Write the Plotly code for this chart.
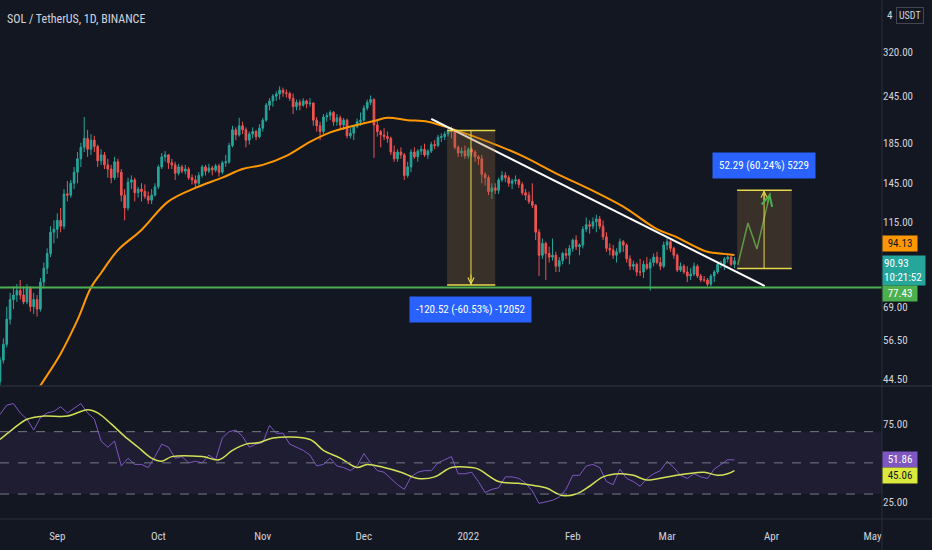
import numpy as np
import pandas as pd
import plotly.graph_objects as go

# SOL/USDT daily candles, 2021-08-15 .. 2022-03-21 (open = previous close)
first_open = 44
closes = [
    # Aug
    50, 55, 64, 72, 74, 76, 74, 71, 77, 69, 72, 68, 80, 87, 95, 108, 110,
    # Sep
    116, 112, 136, 135, 145, 155, 168, 180, 190, 178, 188, 181, 166, 172, 162,
    158, 150, 165, 155, 135, 125, 146, 148, 137, 140, 138, 134, 131, 135, 142,
    # Oct
    160, 170, 172, 164, 162, 154, 160, 156, 158, 150, 148, 145, 152, 160, 156, 159,
    157, 161, 155, 164, 165, 182, 200, 194, 205, 200, 188, 195, 198, 192, 202,
    # Nov
    212, 232, 238, 245, 248, 254, 250, 249, 242, 230, 236, 232, 238, 234, 235,
    212, 205, 198, 216, 218, 222, 210, 215, 206, 212, 193, 196, 204, 210, 212,
    # Dec
    228, 236, 240, 206, 198, 194, 192, 190, 175, 168, 175, 172, 152, 160, 175, 170,
    176, 178, 172, 176, 183, 182, 191, 192, 195, 199, 198, 180, 174, 176, 171,
    # Jan
    178, 175, 170, 168, 153, 150, 138, 141, 139, 148, 152, 150, 145, 147, 148, 144,
    137, 135, 130, 127, 108, 94, 101, 95, 93, 94, 88, 91, 95, 94, 98,
    # Feb
    103, 99, 100, 110, 113, 112, 115, 117, 112, 105, 98, 97, 94, 96, 102, 100,
    92, 88, 89, 85, 85, 89, 87, 90, 93, 90, 88, 100,
    # Mar
    102, 98, 94, 86, 88, 85, 83, 84, 88, 83, 81, 81, 79, 83, 85, 89, 89, 92, 93, 89, 90.93,
]
highs = [
    51, 57, 69, 75, 78, 79, 81, 78, 79, 78, 75, 74, 82, 90, 98, 112, 116,
    121, 125, 140, 147, 148, 160, 175, 185, 216, 200, 195, 193, 183, 178, 175,
    168, 162, 170, 168, 158, 140, 150, 152, 150, 142, 145, 144, 138, 140, 145,
    162, 174, 176, 173, 168, 165, 163, 162, 162, 160, 153, 152, 155, 162, 162, 163,
    161, 163, 163, 166, 172, 185, 205, 203, 215, 210, 203, 198, 203, 200, 207,
    215, 235, 242, 248, 252, 260, 258, 255, 252, 249, 240, 240, 242, 240, 242,
    236, 216, 210, 220, 222, 225, 224, 220, 218, 215, 214, 202, 206, 214, 222,
    232, 240, 246, 242, 212, 200, 202, 198, 192, 182, 178, 180, 174, 165, 178, 180,
    178, 182, 184, 178, 186, 188, 194, 196, 198, 202, 204, 199, 182, 180, 182,
    180, 180, 177, 172, 172, 155, 152, 145, 145, 150, 156, 155, 152, 149, 152, 149,
    146, 140, 138, 145, 128, 110, 104, 102, 99, 104, 96, 93, 96, 98, 100,
    104, 106, 101, 112, 118, 116, 118, 120, 119, 116, 108, 101, 100, 98, 104, 103,
    101, 94, 91, 90, 92, 91, 93, 92, 95, 96, 93, 102,
    104, 103, 99, 95, 90, 89, 88, 87, 90, 89, 84, 83, 82, 84, 86, 90, 91, 93, 94, 94, 93,
]
lows = [
    43, 49, 54, 62, 68, 71, 72, 70, 70, 67, 66, 65, 67, 77, 84, 93, 101,
    104, 108, 110, 130, 133, 140, 145, 160, 175, 170, 172, 175, 160, 162, 158,
    150, 145, 148, 150, 130, 116, 123, 140, 130, 133, 130, 132, 128, 128, 134,
    140, 158, 165, 158, 158, 148, 152, 154, 153, 148, 144, 140, 143, 150, 152, 154,
    152, 155, 151, 153, 160, 163, 180, 188, 192, 195, 180, 183, 190, 188, 190,
    198, 210, 225, 230, 238, 240, 244, 243, 238, 220, 225, 225, 230, 228, 230,
    205, 198, 188, 195, 210, 212, 205, 205, 202, 200, 190, 190, 188, 202, 205,
    210, 225, 232, 169, 192, 180, 188, 185, 172, 165, 165, 168, 148, 150, 155, 168,
    165, 172, 170, 168, 174, 178, 180, 186, 188, 192, 190, 178, 170, 170, 168,
    168, 170, 165, 162, 145, 143, 135, 132, 136, 136, 146, 146, 142, 140, 144, 141,
    135, 131, 128, 125, 103, 83, 92, 81, 90, 91, 85, 85, 89, 92, 89,
    96, 97, 94, 98, 108, 107, 110, 108, 110, 103, 96, 94, 92, 90, 95, 96,
    90, 86, 86, 83, 83, 82, 86, 76, 88, 89, 86, 87,
    97, 96, 92, 85, 85, 84, 80, 81, 83, 82, 80, 80, 78, 78, 80, 84, 87, 86, 90, 88, 87,
]
dates = pd.date_range("2021-08-15", "2022-03-21", freq="D")
opens = [first_open] + closes[:-1]

# moving average (orange)
ma_dates = ["2021-08-24", "2021-08-27", "2021-09-02", "2021-09-07", "2021-09-11",
            "2021-09-14", "2021-09-19", "2021-09-26", "2021-10-04", "2021-10-12",
            "2021-10-20", "2021-10-26", "2021-11-01", "2021-11-08", "2021-11-15",
            "2021-11-21", "2021-11-28", "2021-12-04", "2021-12-08", "2021-12-14",
            "2021-12-20", "2021-12-28", "2022-01-07", "2022-01-17", "2022-01-27",
            "2022-02-06", "2022-02-16", "2022-02-26", "2022-03-03", "2022-03-08",
            "2022-03-13", "2022-03-18", "2022-03-21"]
ma_values = [39, 42.9, 52, 63.7, 77.4, 84.5, 97, 109.5, 130, 141,
             150, 158, 162, 171, 186, 197, 205, 211, 215, 212,
             210, 200, 186, 171, 154, 140, 126, 110, 105.6, 100.4,
             96, 94.8, 94.13]

# RSI (every second day) and its moving average
rsi_values = [81, 87, 88, 82, 78, 71, 79, 82, 83, 86,
              82, 85, 88, 82, 78, 64, 60, 64, 48, 53,
              49, 49, 47, 54, 62, 60, 53, 54, 50, 51,
              50, 55, 52, 66, 70, 71, 67, 60, 62, 63,
              74, 69, 69, 62, 60, 58, 55, 48, 49, 53,
              48, 47, 45, 48, 56, 50, 45, 44, 40, 36,
              33, 41, 44, 45, 45, 50, 52, 54,
              43, 43, 44, 38, 31, 33, 34, 41, 41, 40,
              37, 32, 24, 25, 26, 28, 33, 42, 42, 48,
              49, 47, 38, 36, 46, 40, 38, 35, 40, 43,
              45, 51, 47, 42, 40, 43, 41, 40, 46, 49, 52, 51.86]
rsi_dates = dates[::2]
rsi_ma_dates = ["2021-08-15", "2021-08-19", "2021-08-23", "2021-08-28", "2021-09-04",
                "2021-09-10", "2021-09-13", "2021-09-17", "2021-09-21", "2021-09-25",
                "2021-09-29", "2021-10-02", "2021-10-05", "2021-10-14", "2021-10-19",
                "2021-10-23", "2021-10-27", "2021-10-31", "2021-11-04", "2021-11-15",
                "2021-11-19", "2021-11-24", "2021-11-29", "2021-12-02", "2021-12-07",
                "2021-12-12", "2021-12-17", "2021-12-22", "2021-12-27", "2022-01-02",
                "2022-01-04", "2022-01-10", "2022-01-15", "2022-01-19", "2022-01-24",
                "2022-01-29", "2022-02-02", "2022-02-06", "2022-02-10", "2022-02-15",
                "2022-02-19", "2022-02-23", "2022-03-01", "2022-03-07", "2022-03-12",
                "2022-03-16", "2022-03-19", "2022-03-21"]
rsi_ma_values = [65, 72, 78, 80, 80, 84, 82, 75, 67, 60,
                 53, 51, 54, 54, 52, 58, 62, 63, 66, 65,
                 58, 53, 47, 49, 47, 44, 40, 41, 47, 47,
                 46, 38, 37, 36, 34, 29, 30, 35, 41, 43,
                 42, 39, 41, 43, 44, 42, 43, 45.06]

# drawings
support_level = 77.43
trend_dates = ["2021-12-21", "2022-03-30"]
trend_prices = [213.6, 78.1]
drop_box = ("2021-12-25 17:00", "2022-01-09", 199.11, 78.59)
drop_mid = "2022-01-01 19:00"
rise_box = ("2022-03-21 19:00", "2022-04-07", 86.80, 139.09)
rise_mid = "2022-03-29 19:00"
proj_dates = ["2022-03-22", "2022-03-25", "2022-03-27 16:00", "2022-03-31 14:00"]
proj_prices = [88.7, 114.2, 97.6, 136.8]

month_ticks = ["2021-09-01", "2021-10-01", "2021-11-01", "2021-12-01", "2022-01-01",
               "2022-02-01", "2022-03-01", "2022-04-01", "2022-05-01"]
month_text = ["Sep", "Oct", "Nov", "Dec", "2022", "Feb", "Mar", "Apr", "May"]
price_ticks = [44.5, 56.5, 69, 89, 115, 145, 185, 245, 320]

BG = "#131722"
TXT = "#d1d4dc"
FONT = "Liberation Sans Narrow, Roboto Condensed, Roboto, sans-serif"
UP, DOWN = "#26a69a", "#ef5350"
YELLOW = "#e8d84a"
lg = np.log10

fig = go.Figure()

fig.add_trace(go.Candlestick(
    x=dates, open=opens, high=highs, low=lows, close=closes,
    increasing=dict(line=dict(color=UP, width=1), fillcolor=UP),
    decreasing=dict(line=dict(color=DOWN, width=1), fillcolor=DOWN),
    whiskerwidth=0, hoverinfo="skip", xaxis="x", yaxis="y"))

fig.add_trace(go.Scatter(x=ma_dates, y=ma_values, mode="lines", line_shape="spline",
                         line=dict(color="#ff9800", width=2), xaxis="x", yaxis="y"))
fig.add_trace(go.Scatter(x=trend_dates, y=trend_prices, mode="lines",
                         line=dict(color="#ffffff", width=2), xaxis="x", yaxis="y"))
fig.add_trace(go.Scatter(x=proj_dates, y=proj_prices, mode="lines",
                         line=dict(color="#4caf50", width=1.5), xaxis="x", yaxis="y"))

fig.add_trace(go.Scatter(x=rsi_dates, y=rsi_values, mode="lines",
                         line=dict(color="#7e57c2", width=1), xaxis="x", yaxis="y2"))
fig.add_trace(go.Scatter(x=rsi_ma_dates, y=rsi_ma_values, mode="lines", line_shape="spline",
                         line=dict(color="#d4e157", width=1.5), xaxis="x", yaxis="y2"))

shapes = []
# measure boxes (shapes take raw prices on the log axis)
for (x0, x1, p0, p1) in (drop_box, rise_box):
    shapes.append(dict(type="rect", xref="x", yref="y", x0=x0, x1=x1, y0=p0, y1=p1,
                       fillcolor="rgba(140,105,55,0.32)", line=dict(width=0), layer="above"))
    for p in (p0, p1):
        shapes.append(dict(type="line", xref="x", yref="y", x0=x0, x1=x1, y0=p, y1=p,
                           line=dict(color=YELLOW, width=1.5)))
shapes.append(dict(type="line", xref="x", yref="y", x0=drop_mid, x1=drop_mid,
                   y0=drop_box[2], y1=drop_box[3], line=dict(color=YELLOW, width=1)))
shapes.append(dict(type="line", xref="x", yref="y", x0=rise_mid, x1=rise_mid,
                   y0=rise_box[2], y1=rise_box[3], line=dict(color=YELLOW, width=1)))
# support line
shapes.append(dict(type="line", xref="paper", yref="y", x0=0, x1=1,
                   y0=support_level, y1=support_level, line=dict(color="#4caf50", width=2)))
# RSI band and levels
shapes.append(dict(type="rect", xref="paper", yref="y2", x0=0, x1=1, y0=30, y1=70,
                   fillcolor="rgba(126,87,194,0.10)", line=dict(width=0), layer="below"))
for lvl in (30, 50, 70):
    shapes.append(dict(type="line", xref="paper", yref="y2", x0=0, x1=1, y0=lvl, y1=lvl,
                       line=dict(color="#787b86", width=1, dash="dash")))
# pane separators
sep = "#2a2e39"
main_bottom = 133 / 519
shapes.append(dict(type="line", xref="paper", yref="paper", x0=1, x1=1, y0=-0.06, y1=1,
                   line=dict(color=sep, width=1)))
shapes.append(dict(type="line", xref="paper", yref="paper", x0=0, x1=1.06,
                   y0=main_bottom, y1=main_bottom, line=dict(color=sep, width=1.5)))
shapes.append(dict(type="line", xref="paper", yref="paper", x0=0, x1=1.06,
                   y0=0, y1=0, line=dict(color=sep, width=1)))

annotations = [
    dict(text="SOL / TetherUS, 1D, BINANCE", xref="paper", yref="paper", x=0, y=1,
         xanchor="left", yanchor="top", xshift=5, yshift=-10, showarrow=False,
         font=dict(color=TXT, size=12, family=FONT)),
    dict(text="4", xref="paper", yref="paper", x=1, y=1, xanchor="left", yanchor="top",
         xshift=3, yshift=-7, showarrow=False, font=dict(color=TXT, size=11, family=FONT)),
    dict(text="USDT", xref="paper", yref="paper", x=1, y=1, xanchor="left", yanchor="top",
         xshift=14, yshift=-7, showarrow=False, bgcolor=BG, bordercolor="#434651",
         borderwidth=1, borderpad=2, font=dict(color=TXT, size=10, family=FONT)),
    # arrow heads of the measure tools (annotations use log10 on a log axis)
    dict(x=drop_mid, y=lg(drop_box[3]), xref="x", yref="y", text="", showarrow=True,
         ax=0, ay=-12, arrowhead=5, arrowsize=1.2, arrowwidth=1, arrowcolor=YELLOW),
    dict(x=rise_mid, y=lg(rise_box[3]), xref="x", yref="y", text="", showarrow=True,
         ax=0, ay=12, arrowhead=5, arrowsize=1.2, arrowwidth=1, arrowcolor=YELLOW),
    dict(x=proj_dates[-1], y=lg(proj_prices[-1]), xref="x", yref="y", text="",
         showarrow=True, ax=-3, ay=12, arrowhead=5, arrowsize=1.4, arrowwidth=1.5,
         arrowcolor="#4caf50"),
    # measure labels
    dict(x=drop_mid, y=lg(drop_box[3]), xref="x", yref="y", yshift=-24,
         text="-120.52 (-60.53%) -12052", showarrow=False, bgcolor="#2962ff",
         borderpad=6, font=dict(color="#ffffff", size=11, family=FONT)),
    dict(x=rise_mid, y=lg(rise_box[3]), xref="x", yref="y", yshift=25,
         text="52.29 (60.24%) 5229", showarrow=False, bgcolor="#2962ff",
         borderpad=6, font=dict(color="#ffffff", size=11, family=FONT)),
    # price scale labels
    dict(text=f"{ma_values[-1]:.2f}", xref="paper", yref="y", x=1, y=lg(ma_values[-1]),
         yshift=12, xanchor="left", showarrow=False, bgcolor="#ff9800", width=32,
         font=dict(color="#131722", size=11, family=FONT)),
    dict(text=f"{closes[-1]:.2f}<br>10:21:52", xref="paper", yref="y", x=1,
         y=lg(closes[-1]), yshift=-10, xanchor="left", showarrow=False, bgcolor=UP,
         width=40, align="left", font=dict(color="#ffffff", size=11, family=FONT)),
    dict(text=f"{support_level:.2f}", xref="paper", yref="y", x=1, y=lg(support_level),
         yshift=-6, xanchor="left", showarrow=False, bgcolor="#4caf50", width=32,
         font=dict(color="#ffffff", size=11, family=FONT)),
    dict(text=f"{rsi_values[-1]:.2f}", xref="paper", yref="y2", x=1, y=rsi_values[-1],
         xanchor="left", showarrow=False, bgcolor="#7e57c2", width=32,
         font=dict(color="#ffffff", size=11, family=FONT)),
    dict(text=f"{rsi_ma_values[-1]:.2f}", xref="paper", yref="y2", x=1,
         y=rsi_ma_values[-1], yshift=-5, xanchor="left", showarrow=False,
         bgcolor="#dbe83c", width=32, font=dict(color="#131722", size=11, family=FONT)),
]

fig.update_layout(
    width=932, height=550,
    margin=dict(l=0, r=50, t=0, b=31),
    paper_bgcolor=BG, plot_bgcolor=BG,
    showlegend=False,
    font=dict(family=FONT, color=TXT, size=11),
    xaxis=dict(type="date", range=["2021-08-15", "2022-05-03 19:00"], anchor="y2",
               tickvals=month_ticks, ticktext=month_text, showgrid=False,
               zeroline=False, showline=False, ticks="outside", ticklen=7, tickcolor=BG,
               rangeslider=dict(visible=False), tickfont=dict(color=TXT, size=11)),
    yaxis=dict(type="log", domain=[main_bottom, 1], range=[lg(42.8), lg(437)],
               side="right", anchor="x", tickvals=price_ticks,
               ticktext=[f"{v:.2f}" for v in price_ticks], showgrid=False,
               zeroline=False, ticks="", tickfont=dict(color=TXT, size=11)),
    yaxis2=dict(domain=[0, 131 / 519], range=[14, 98], side="right", anchor="x",
                tickvals=[25, 75], ticktext=["25.00", "75.00"], showgrid=False,
                zeroline=False, ticks="", tickfont=dict(color=TXT, size=11)),
    shapes=shapes,
    annotations=annotations,
)

# drop the browser's default page margin so the chart fills the window
fig.write_html("out.html", config={"displayModeBar": False},
               post_script="document.body.style.margin='0';")
